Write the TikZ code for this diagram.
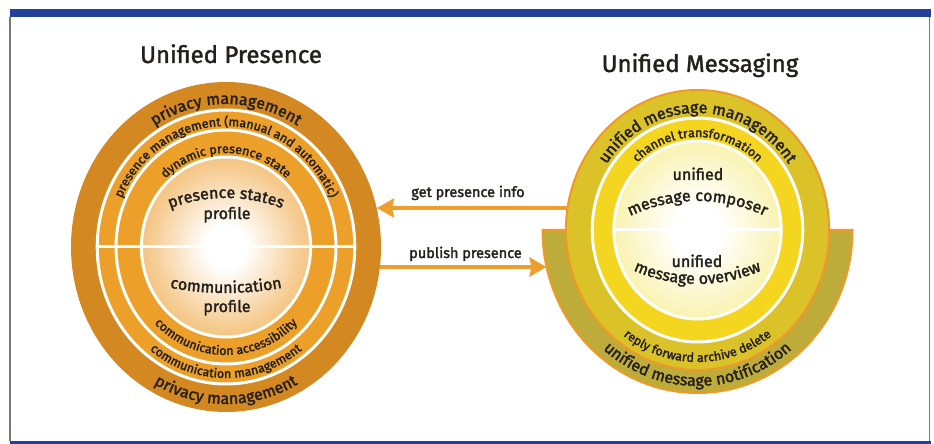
\documentclass[tikz,border=0pt]{standalone}
\usepackage{fontspec}
\setmainfont{Fira Sans}
\newfontfamily\rf{Fira Sans}[FakeBold=2]
\newfontfamily\tf{Fira Sans}[FakeBold=1.6]
\usetikzlibrary{decorations.text,arrows.meta}
\definecolor{txt}{RGB}{36,32,28}
\definecolor{lout}{RGB}{212,136,34}
\definecolor{lmid}{RGB}{236,160,42}
\definecolor{lin}{RGB}{238,162,56}
\colorlet{linm}{lin!55!white}
\definecolor{rone}{RGB}{218,194,40}
\definecolor{rtwo}{RGB}{244,214,32}
\definecolor{ru}{RGB}{190,172,58}
\definecolor{ror}{RGB}{240,152,40}
\definecolor{rin}{RGB}{245,234,120}
\colorlet{rinm}{rin!55!white}
\definecolor{fblue}{RGB}{35,65,155}
\definecolor{fgray}{RGB}{120,120,120}
\definecolor{arr}{RGB}{238,158,44}
\pgfdeclareradialshading{lglow}{\pgfpoint{0bp}{0bp}}{color(0bp)=(white); color(6bp)=(white); color(22bp)=(linm); color(40bp)=(lin); color(50bp)=(lin)}
\pgfdeclareradialshading{rglow}{\pgfpoint{0bp}{0bp}}{color(0bp)=(white); color(7bp)=(white); color(24bp)=(rinm); color(42bp)=(rin); color(50bp)=(rin)}
\newcommand\fA{\rf\fontsize{16}{18}\selectfont}
\newcommand\fB{\rf\fontsize{12.5}{14}\selectfont}
\newcommand\fC{\rf\fontsize{16}{19}\selectfont}
\newcommand\fD{\rf\fontsize{14.5}{16}\selectfont}
\newcommand\ringtext[6]{%
  \path[decorate,decoration={text along path,text align=center,text color=txt,text={|#5|#6}}]
    (#1) ++({-0.94*#2},0) arc[start angle=#3,end angle=#4,x radius={0.94*#2},y radius=#2];}
\newcommand\arctext[6]{%
  \path[decorate,decoration={text along path,text align=center,text color=txt,text={|#5|#6}}]
    (#1) ++(#3:#2) arc[start angle=#3,end angle=#4,radius=#2];}
\begin{document}
\begin{tikzpicture}[x=1pt,y=1pt,
  wl/.style={draw=white,line width=3pt},
  lbl/.style={font=\fC,text=txt,inner sep=0pt,anchor=base},
  albl/.style={font=\fD,text=txt,inner sep=0pt,anchor=base},
  ttl/.style={font=\tf\fontsize{24}{28}\selectfont,text=txt,inner sep=0pt,anchor=base},
  arrowline/.style={draw=arr,line width=4pt,-{Stealth[length=17pt,width=19pt,inset=2pt]}}]
\useasboundingbox (0,0) rectangle (934,444);
% frame
\fill[fblue] (9.5,427.3) rectangle (930.5,435);
\fill[fblue] (9.5,0) rectangle (930.5,2.8);
\draw[fgray,line width=1.2pt] (10,427.3) -- (10,2.8);
\draw[fgray,line width=1.2pt] (929.8,427.3) -- (929.8,2.8);
% titles
\node[ttl] (t1) at (231,381) {Unified Presence};
\node[ttl] (t2) at (700,372) {Unified Messaging};
% centres
\coordinate (L) at (226,197);
\coordinate (R) at (697.5,214);
% left circle
\fill[lout] (L) ellipse[x radius=155,y radius=165];
\filldraw[fill=lmid,wl] (L) ellipse[x radius={0.94*137},y radius=137];
\filldraw[fill=lmid,wl] (L) ellipse[x radius={0.94*117},y radius=117];
\shade[shading=lglow] (L) ellipse[x radius={0.94*90},y radius=90];
\draw[wl] (L) ellipse[x radius={0.94*90},y radius=90];
\draw[wl] (L) ++({-0.94*137},0) -- ++({2*0.94*137},0);
% right circle
\filldraw[fill=ru,draw=ror,line width=2pt] (R) ++(-155,0) arc[start angle=180,end angle=360,x radius=155,y radius=163] -- cycle;
\filldraw[fill=rone,draw=ror,line width=2pt] (R) ellipse[x radius={0.94*140},y radius=140];
\filldraw[fill=rtwo,wl] (R) ellipse[x radius={0.94*112},y radius=112];
\shade[shading=rglow] (R) ellipse[x radius={0.94*89},y radius=89];
\draw[wl] (R) ellipse[x radius={0.94*89},y radius=89];
\draw[wl] (R) ++({-0.94*89},0) -- ++({2*0.94*89},0);
% left ring texts
\ringtext{L}{143}{180}{0}{\fA}{privacy management}
\ringtext{L}{121}{180}{0}{\fB}{presence management (manual and automatic)}
\ringtext{L}{94}{180}{0}{\fB}{dynamic presence state}
\ringtext{L}{108}{180}{360}{\fB}{communication accessibility}
\ringtext{L}{131}{180}{360}{\fB}{communication management}
\ringtext{L}{157}{180}{360}{\fA}{privacy management}
% left inner texts
\coordinate (Lc1) at (226,90);
\coordinate (Lc2) at (226,456);
\arctext{Lc1}{156}{120}{60}{\fC}{presence states}
\node[lbl] (lp1) at (227,225) {profile};
\arctext{Lc2}{305}{240}{300}{\fC}{communication}
\node[lbl] (lp2) at (227,132) {profile};
% right ring texts
\ringtext{R}{117}{180}{0}{\fA}{unified message management}
\ringtext{R}{93}{180}{0}{\fB}{channel transformation}
\ringtext{R}{132}{180}{360}{\fB}{reply forward archive delete}
\ringtext{R}{156}{180}{360}{\fA}{unified message notification}
% right inner texts
\coordinate (Rc1) at (697.5,85);
\coordinate (Rc2) at (697.5,318);
\node[lbl] (ru1) at (698,264) {unified};
\arctext{Rc1}{158}{125}{55}{\fC}{message composer}
\node[lbl] (ru2) at (697,177) {unified};
\arctext{Rc2}{158}{235}{305}{\fC}{message overview}
% arrows
\coordinate (gpS) at (567.5,236);
\coordinate (gpE) at (377,236);
\coordinate (ppS) at (380,177);
\coordinate (ppE) at (546.5,177);
\draw[arrowline] (gpS) -- (gpE);
\draw[arrowline] (ppS) -- (ppE);
\node[albl] (gpl) at (468,247) {get presence info};
\node[albl] (ppl) at (465.5,186) {publish presence};
\end{tikzpicture}
\end{document}
